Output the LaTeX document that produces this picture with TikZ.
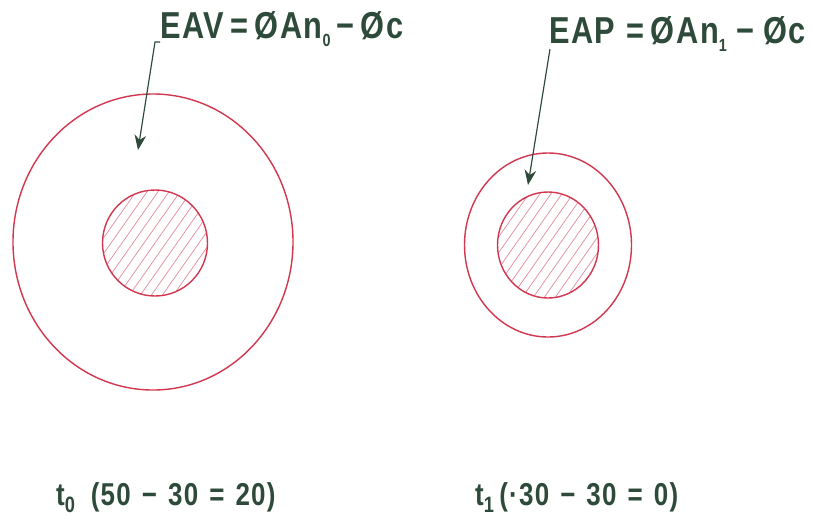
\documentclass[tikz,border=0pt]{standalone}
\usepackage{fontspec}
\setmainfont{Liberation Sans}
\newfontfamily\narrowfont[FakeStretch=0.82,LetterSpace=4]{Liberation Sans}
\usetikzlibrary{shapes.geometric,arrows.meta,calc}
\definecolor{ringRed}{HTML}{D2374F}
\definecolor{hatchPink}{HTML}{E58A9A}
\definecolor{inkGreen}{HTML}{2E4A3A}
\newcommand{\lowsub}[2][13]{\raisebox{-0.45ex}{\fontsize{#1}{#1}\selectfont #2}}
\newcommand{\gap}{\hspace{0.35em}}

\begin{document}
\begin{tikzpicture}[x=0.03cm,y=-0.03cm,
    ring/.style={draw=ringRed,line width=1.2pt,ellipse,inner sep=0pt,outer sep=0pt},
    core/.style={ring,path picture={
        \foreach \k in {-9,...,9}
          \draw[hatchPink,line width=0.6pt]
            ($(path picture bounding box.center)+(\k*0.33cm,0cm)+(-1.3cm,-1.85cm)$) -- ++(2.6cm,3.7cm);}},
    lbl/.style={text=inkGreen,inner sep=0pt,anchor=base west,
      font=\narrowfont\bfseries\fontsize{32}{36}\selectfont},
    stamp/.style={lbl,font=\narrowfont\bfseries\fontsize{27}{30}\selectfont},
    pointer/.style={draw=inkGreen,line width=1pt,-{Stealth[length=0.45cm,width=0.35cm]}}]
  \useasboundingbox (0,0) rectangle (813,527);
  % rings at t0 and t1
  \node[ring,minimum width=8.4cm,minimum height=8.88cm] (outerA) at (153,242) {};
  \node[core,minimum width=3.15cm,minimum height=3.18cm] (coreA) at (155,243) {};
  \node[ring,minimum width=5.01cm,minimum height=5.52cm] (outerB) at (548,245) {};
  \node[core,minimum width=3.03cm,minimum height=3.18cm] (coreB) at (548,245) {};
  % labels
  \node[lbl] (eav) at (160,38) {EAV\,=\,ØAn\lowsub[15]{0}\,−\,Øc};
  \node[lbl] (eap) at (549,43) {EAP\hspace{0.3em}=\,ØAn\lowsub[15]{1}\hspace{0.25em}−\hspace{0.25em}Øc};
  \node[stamp] (tzero) at (56,505) {t\lowsub[19]{0}\enspace(50\gap−\gap30\gap=\gap20)};
  \node[stamp] (tone) at (475,505) {t\lowsub[19]{1}\,(·30\gap−\gap30\gap=\gap0)};
  % pointers
  \coordinate (tipA) at (138,150);
  \coordinate (tipB) at (528,185);
  \draw[pointer] ($(eav.base west)+(0,4)$) -- ++(-5,0) -- (tipA);
  \draw[pointer] ($(eap.base west)+(1,6)$) -- (tipB);
\end{tikzpicture}
\end{document}
